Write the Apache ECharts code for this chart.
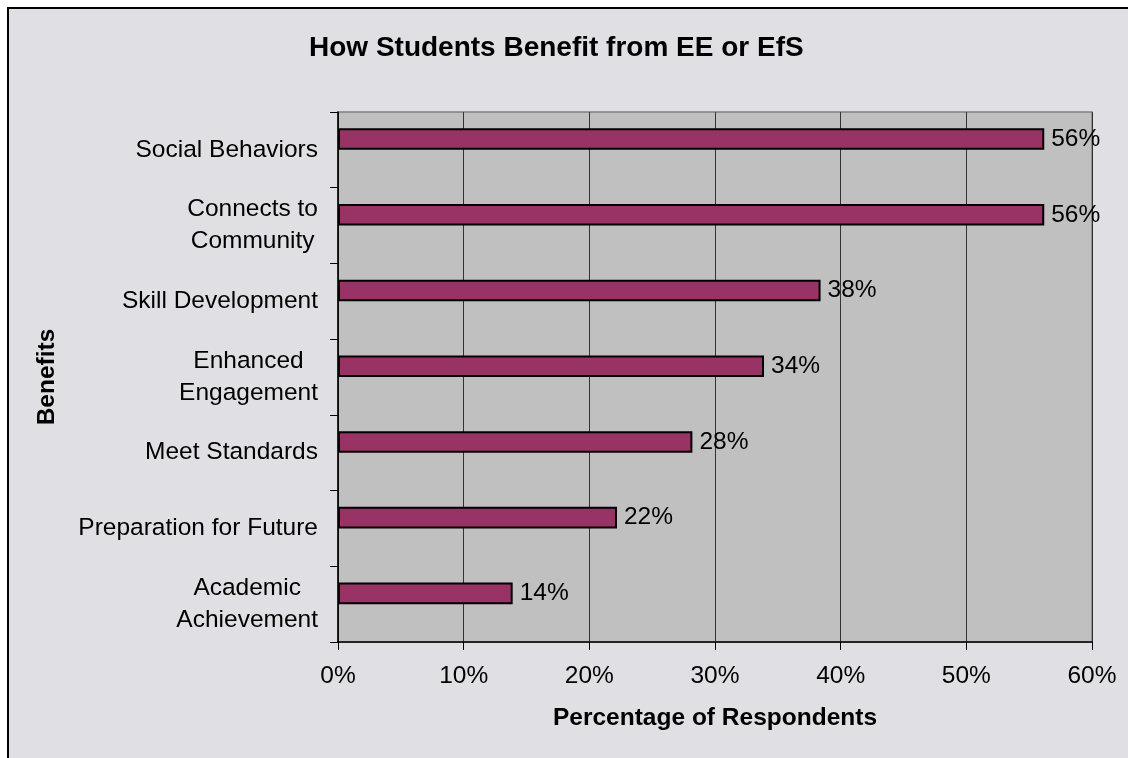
<!DOCTYPE html>
<html>
<head>
<meta charset="utf-8">
<script src="https://cdn.jsdelivr.net/npm/echarts@6/dist/echarts.min.js"></script>
<style>
  html, body { margin: 0; padding: 0; background: #ffffff; }
  #chart { width: 1128px; height: 758px; }
</style>
</head>
<body>
<div id="chart"></div>
<script>
// Data
const categories = [
  "Social Behaviors",
  "Connects to\nCommunity",
  "Skill Development",
  "Enhanced\nEngagement",
  "Meet Standards",
  "Preparation for Future",
  "Academic\nAchievement"
];
const values = [56.2, 56.2, 38.4, 33.9, 28.2, 22.2, 13.9];
const xTicks = [0, 10, 20, 30, 40, 50, 60];

const FONT = 'Liberation Sans, Arial, sans-serif';
const chart = echarts.init(document.getElementById('chart'), null, { renderer: 'canvas' });

chart.setOption({
  backgroundColor: '#ffffff',
  animation: false,
  graphic: [{
    type: 'rect',
    z: -10,
    silent: true,
    shape: { x: 8, y: 8, width: 1200, height: 800 },
    style: { fill: '#E0DFE3', stroke: '#000000', lineWidth: 2 }
  }],
  title: {
    text: 'How Students Benefit from EE or EfS',
    left: 309,
    top: 34,
    padding: 0,
    textStyle: { fontFamily: FONT, fontSize: 28, fontWeight: 'bold', color: '#000' }
  },
  grid: {
    left: 338, top: 112, width: 754, height: 530,
    show: true, backgroundColor: '#C0C0C0', borderColor: '#808080', borderWidth: 1.5,
    containLabel: false
  },
  xAxis: {
    type: 'value',
    min: xTicks[0], max: xTicks[xTicks.length - 1], interval: 10,
    name: 'Percentage of Respondents',
    nameLocation: 'middle',
    nameGap: 64,
    nameTextStyle: { fontFamily: FONT, fontSize: 24.5, fontWeight: 'bold', color: '#000' },
    axisLine: { show: true, lineStyle: { color: '#000', width: 1.5 } },
    axisTick: { show: true, length: 8, lineStyle: { color: '#000' } },
    axisLabel: {
      fontFamily: FONT, fontSize: 24.5, color: '#000', margin: 22,
      formatter: v => v + '%'
    },
    splitLine: { show: true, lineStyle: { color: '#333', width: 1 } }
  },
  yAxis: {
    type: 'category',
    data: categories,
    inverse: true,
    name: 'Benefits',
    nameLocation: 'middle',
    nameRotate: 90,
    nameGap: 278,
    nameTextStyle: { fontFamily: FONT, fontSize: 24.5, fontWeight: 'bold', color: '#000' },
    axisLine: { show: true, lineStyle: { color: '#000', width: 1.5 } },
    axisTick: { show: true, length: 8, lineStyle: { color: '#000' } },
    axisLabel: {
      margin: 20,
      fontFamily: FONT, fontSize: 24.5, color: '#000', lineHeight: 32,
      formatter: v => v.split('\n').map(s => '{c|' + s + '}').join('\n'),
      rich: { c: { align: 'center', fontFamily: FONT, fontSize: 24.5, color: '#000', lineHeight: 32 } }
    }
  },
  series: [{
    type: 'bar',
    name: 'Benefits',
    data: values,
    barGap: '0%',
    barCategoryGap: '43%',
    itemStyle: { color: '#993366', borderColor: '#000', borderWidth: 2 },
    label: {
      show: true, position: 'right', distance: 7,
      fontFamily: FONT, fontSize: 24.5, color: '#000',
      formatter: p => Math.round(p.value) + '%'
    }
  }, {
    type: 'bar',
    name: 'blank',
    data: [],
    barGap: '0%',
    barCategoryGap: '43%'
  }]
});
</script>
</body>
</html>
